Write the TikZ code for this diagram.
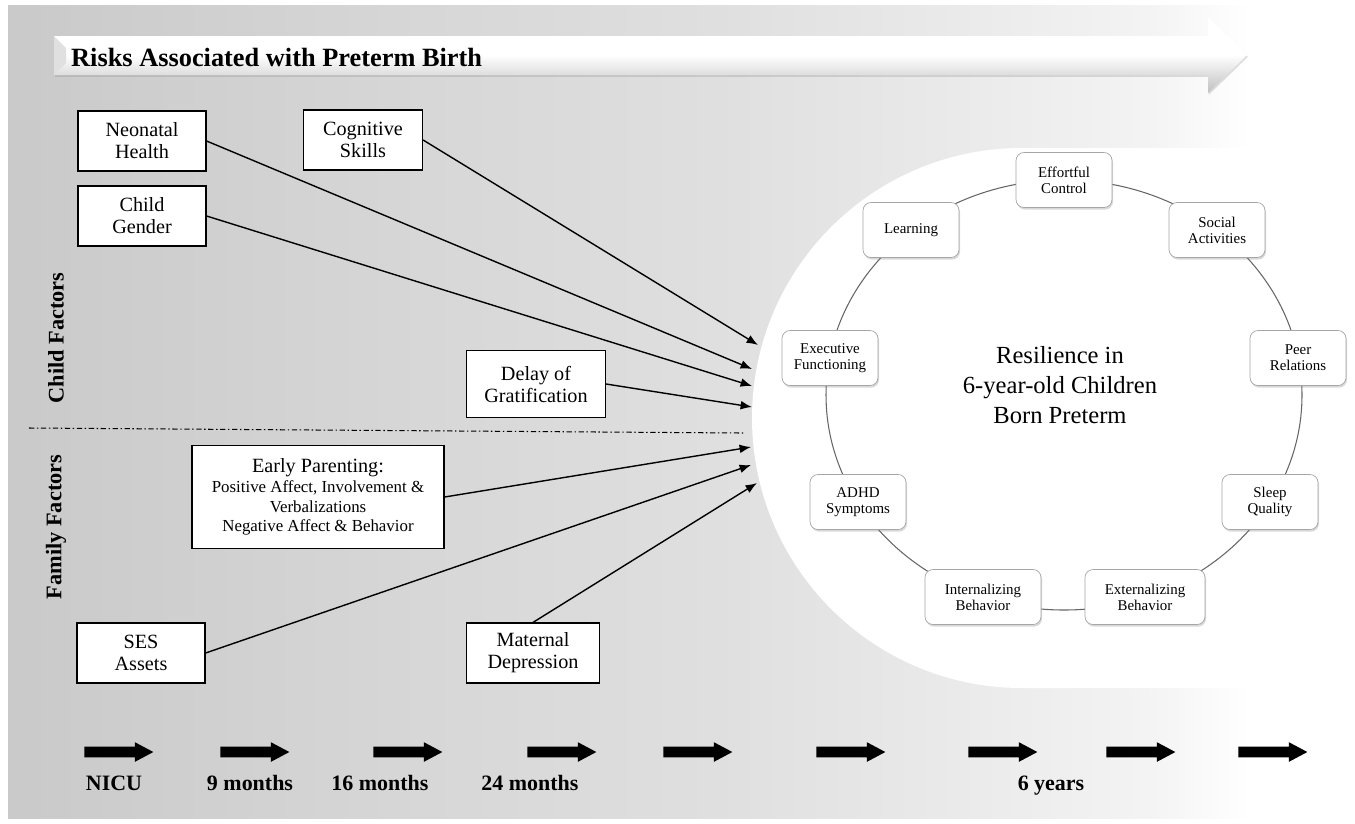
\documentclass[tikz,border=0pt]{standalone}
\usepackage{fontspec}
\setmainfont{Liberation Serif}
\usetikzlibrary{arrows.meta,shapes.arrows,shadows}
\definecolor{bgA}{gray}{0.79}
\definecolor{bgB}{gray}{0.84}
\definecolor{bgC}{gray}{0.875}
\definecolor{bgD}{gray}{0.925}
\definecolor{bgE}{gray}{0.955}
\pgfdeclarehorizontalshading{bgfade}{100bp}{color(0bp)=(bgA); color(25bp)=(bgA); color(39.5bp)=(bgB); color(51.4bp)=(bgC); color(61.8bp)=(bgD); color(67.4bp)=(bgE); color(71.1bp)=(white); color(100bp)=(white)}

\begin{document}
\begin{tikzpicture}[x=0.02cm,y=-0.02cm,
  factor/.style={draw,fill=white,line width=0.7pt,align=center,inner sep=0pt,
    font=\fontsize{11.5}{12.5}\selectfont,minimum width=2.56cm,minimum height=1.2cm},
  outcome/.style={draw=black!35,fill=white,rounded corners=0.16cm,align=center,inner sep=0pt,
    font=\fontsize{8.5}{9.2}\selectfont,minimum width=1.92cm,minimum height=1.1cm,
    drop shadow={opacity=0.3,shadow xshift=0.6pt,shadow yshift=-1.2pt}},
  link/.style={-{Latex[length=6.5pt,width=5pt]},line width=0.8pt},
  side/.style={rotate=90,font=\fontsize{12.7}{14}\selectfont\bfseries},
  when/.style={anchor=base,font=\fontsize{12.5}{14}\selectfont\bfseries},
  tick/.style={single arrow,anchor=tail,fill=black,inner sep=0pt,text height=0.1cm,text depth=0.1cm,
    minimum height=1.38cm,minimum width=0.38cm,single arrow head extend=0.09cm,single arrow tip angle=56}]
\useasboundingbox (0,0) rectangle (1355,823);
\path[shading=bgfade] (8,5) rectangle (1355,818);
\fill[white] (1355,148) -- (1022,148) arc[start angle=270,end angle=90,radius=270] -- (1355,688) -- cycle;

\path[top color=white,bottom color=black!25,middle color=white,drop shadow={opacity=0.25,shadow xshift=0.5pt,shadow yshift=-1pt}]
  (54,36) -- (1208,36) -- (1208,17) -- (1247,55) -- (1208,93) -- (1208,75) -- (54,75) -- cycle;
\fill[black!12] (54,36) -- (66,48) -- (66,63) -- (54,75) -- cycle;
\path (65,57) node[anchor=west,font=\fontsize{15}{17}\selectfont\bfseries] (title) {Risks Associated with Preterm Birth};

\path (142,141) node[factor] (NH) {Neonatal\\Health};
\path (363,140) node[factor,minimum width=2.38cm] (CS) {Cognitive\\Skills};
\path (142,216) node[factor] (CG) {Child\\Gender};
\path (536,384) node[factor,minimum width=2.78cm,minimum height=1.34cm] (DG) {Delay of\\Gratification};
\path (318,497) node[factor,minimum width=5.04cm,minimum height=2.06cm,font=\fontsize{9.6}{11.3}\selectfont] (EP)
  {{\fontsize{11.5}{12.5}\selectfont Early Parenting:}\\Positive Affect, Involvement \&\\Verbalizations\\Negative Affect \& Behavior};
\path (141,653) node[factor] (SES) {SES\\Assets};
\path (533,653) node[factor,minimum width=2.66cm] (MD) {Maternal\\Depression};

\coordinate (e1) at (758,345);
\coordinate (e2) at (752,369);
\coordinate (e3) at (752,386);
\coordinate (e4) at (752,407);
\coordinate (e5) at (751,447);
\coordinate (e6) at (751,465);
\coordinate (e7) at (757,483);
\draw[link] (CS.east) -- (e1);
\draw[link] (NH.east) -- (e2);
\draw[link] (CG.east) -- (e3);
\draw[link] (DG.east) -- (e4);
\draw[link] (EP.east) -- (e5);
\draw[link] (SES.east) -- (e6);
\draw[link] (MD.north) -- (e7);

\draw[line width=0.6pt,dash pattern=on 3pt off 1.5pt on 0.8pt off 1.5pt] (29,428) -- (744,433);
\path (56,338) node[side] (child) {Child Factors};
\path (56,527) node[side] (family) {Family Factors};

\draw[black!60,line width=0.6pt] (1064,395) ellipse [x radius=238,y radius=215];
\path (1060,385) node[align=center,font=\fontsize{14}{17}\selectfont] (core) {Resilience in\\6-year-old Children\\Born Preterm};
\path (1064,180) node[outcome] (EC) {Effortful\\Control};
\path (1217,230) node[outcome] (SA) {Social\\Activities};
\path (1298,358) node[outcome] (PR) {Peer\\Relations};
\path (1270,502) node[outcome] (SQ) {Sleep\\Quality};
\path (1145,597) node[outcome,minimum width=2.4cm] (EB) {Externalizing\\Behavior};
\path (983,597) node[outcome,minimum width=2.32cm] (IB) {Internalizing\\Behavior};
\path (858,502) node[outcome] (AD) {ADHD\\Symptoms};
\path (830,358) node[outcome] (EF) {Executive\\Functioning};
\path (911,230) node[outcome] (LE) {Learning};

\path (84,752) node[tick] (t1) {};
\path (220,752) node[tick] (t2) {};
\path (373,752) node[tick] (t3) {};
\path (527,752) node[tick] (t4) {};
\path (663,752) node[tick] (t5) {};
\path (816,752) node[tick] (t6) {};
\path (968,752) node[tick] (t7) {};
\path (1106,752) node[tick] (t8) {};
\path (1238,752) node[tick] (t9) {};
\path (114,790) node[when] (l1) {NICU};
\path (250,790) node[when] (l2) {9 months};
\path (380,790) node[when] (l3) {16 months};
\path (530,790) node[when] (l4) {24 months};
\path (1051,790) node[when] (l5) {6 years};
\end{tikzpicture}
\end{document}
